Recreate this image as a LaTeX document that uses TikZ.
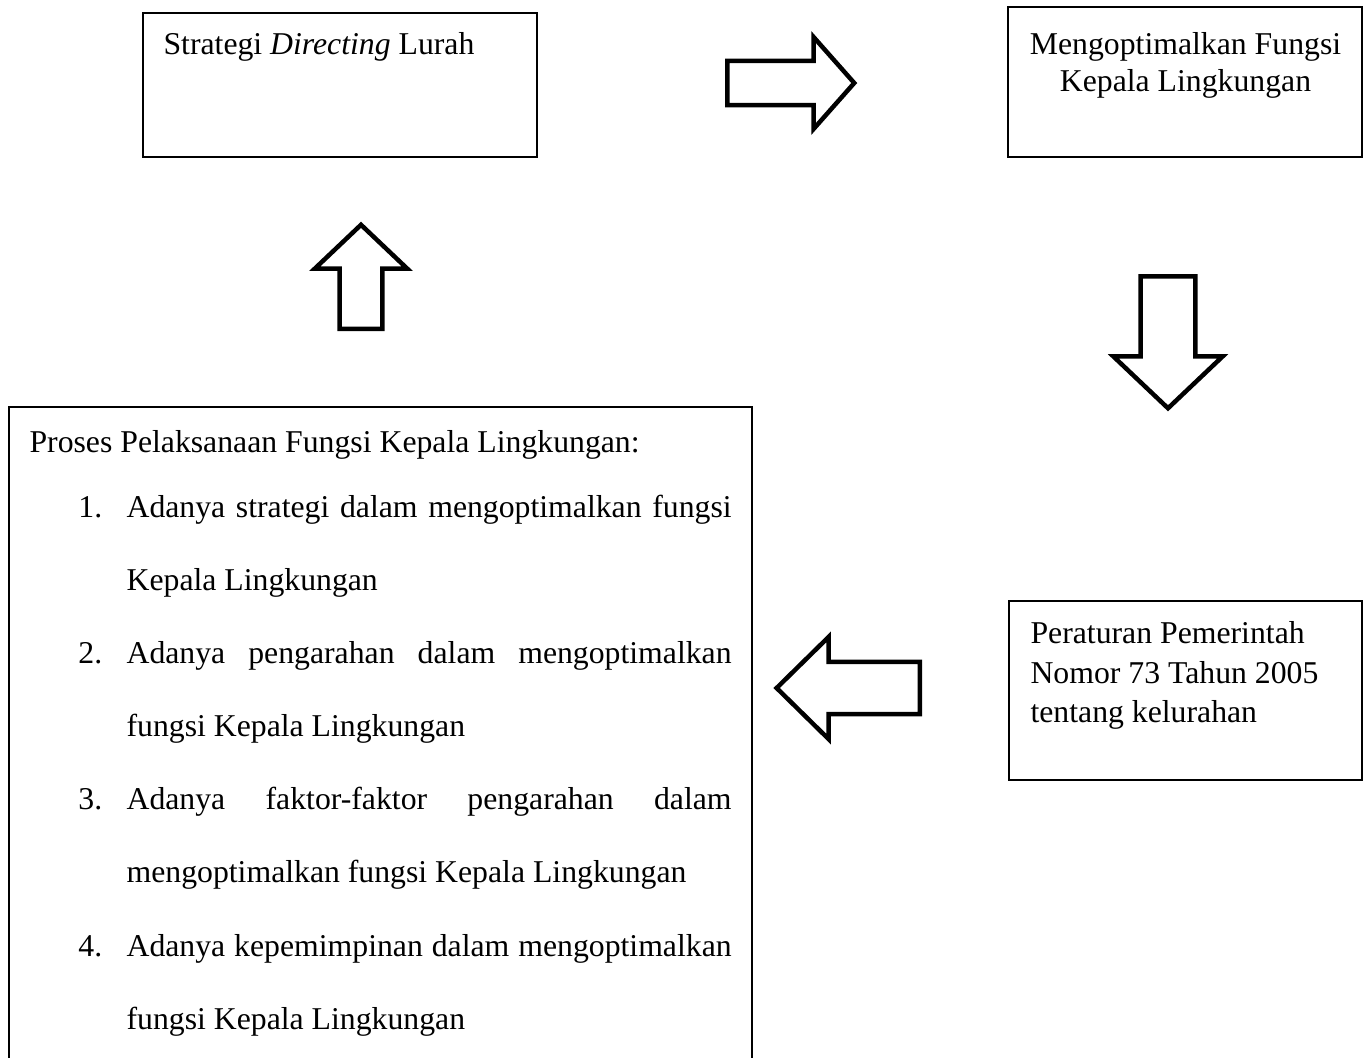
\documentclass[tikz,border=0pt]{standalone}
\usepackage{fontspec}
\setmainfont{Liberation Serif}
\usetikzlibrary{fit,shapes.arrows}
\newcommand\itemno[1]{\hspace*{18.5pt}\makebox[18.2pt][l]{#1}}
\newcommand\fullline[1]{\makebox[228.7pt][s]{#1}}
\newcommand\contline{\hspace*{36.7pt}}

\begin{document}
\begin{tikzpicture}[x=0.378pt, y=-0.378pt, box/.style = {draw, line width=0.5pt, inner sep=0pt}, txt/.style = {inner sep=0pt, font=\fontsize{12pt}{13.8pt}\selectfont}, blockarrow/.style = {draw, line width=1.7pt, single arrow, minimum width=0pt, inner xsep=0pt, anchor=tail}]
\clip (0,0) rectangle (1364,1057);
\node[box, fit={(143,13) (537,157)}] (strategi) {};
\node[box, fit={(1008,7) (1362,157)}] (optimal) {};
\node[box, fit={(1009,601) (1362,780)}] (peraturan) {};
\node[box, fit={(9,407) (752,1080)}] (proses) {};

\node[txt, anchor=base west] (strategi_t) at (163,54) {Strategi \textit{Directing} Lurah};
\node[txt, anchor=north, align=center] (optimal_t) at (1185.5,32) {Mengoptimalkan Fungsi\\Kepala Lingkungan};
\node[txt, anchor=north west, align=left, font=\fontsize{12pt}{15pt}\selectfont] (peraturan_t) at (1030,621) {Peraturan Pemerintah\\Nomor 73 Tahun 2005\\tentang kelurahan};
\node[txt, anchor=north west, align=left, font=\fontsize{12pt}{27.6pt}\selectfont] (proses_t) at (29,430) {Proses Pelaksanaan Fungsi Kepala Lingkungan:\\[-2.9pt]
\itemno{1.}\fullline{Adanya strategi dalam mengoptimalkan fungsi}\\
\contline Kepala Lingkungan\\
\itemno{2.}\fullline{Adanya pengarahan dalam mengoptimalkan}\\
\contline fungsi Kepala Lingkungan\\
\itemno{3.}\fullline{Adanya faktor-faktor pengarahan dalam}\\
\contline mengoptimalkan fungsi Kepala Lingkungan\\
\itemno{4.}\fullline{Adanya kepemimpinan dalam mengoptimalkan}\\
\contline fungsi Kepala Lingkungan};

\node[blockarrow, minimum height=48pt, inner ysep=7.5pt, single arrow head extend=9pt, single arrow tip angle=97] (to_optimal) at (725,83) {};
\node[blockarrow, minimum height=49.9pt, inner ysep=9.5pt, single arrow head extend=10.3pt, single arrow tip angle=93, rotate=-90] (to_peraturan) at (1168,274) {};
\node[blockarrow, minimum height=54.1pt, inner ysep=9pt, single arrow head extend=9.5pt, single arrow tip angle=89, rotate=180] (to_proses) at (922,688) {};
\node[blockarrow, minimum height=39.3pt, inner ysep=7.2pt, single arrow head extend=9.4pt, single arrow tip angle=93, rotate=90] (to_strategi) at (361,331) {};
\end{tikzpicture}
\end{document}
